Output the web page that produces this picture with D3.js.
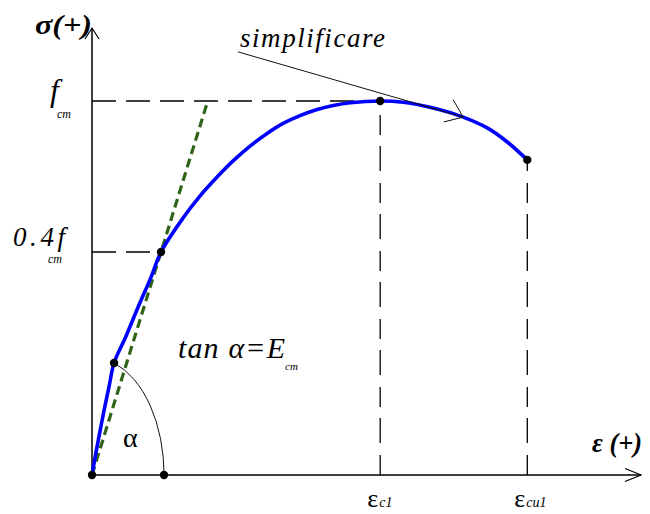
<!DOCTYPE html>
<html>
<head>
<meta charset="utf-8">
<script src="https://cdn.jsdelivr.net/npm/d3@7"></script>
<style>
  html, body { margin: 0; padding: 0; background: #fff; }
  svg { display: block; }
  text { font-family: "Liberation Serif", "Times New Roman", serif; fill: #000; }
</style>
</head>
<body>
<svg id="chart" width="650" height="514"></svg>
<script>
// Stress–strain diagram of concrete in compression (schematic).
// Strain in ‰, stress as a fraction of fcm.
const strain = [0, 0.028, 0.056, 0.083, 0.118, 0.153, 0.236, 0.326, 0.410, 0.479, 0.632, 0.750,
                0.868, 0.979, 1.097, 1.215, 1.326, 1.444, 1.563, 1.674, 1.792, 2.0,
                2.160, 2.396, 2.576, 2.743, 2.882, 3.021];
const stress = [0, 0.041, 0.079, 0.115, 0.158, 0.201, 0.249, 0.305, 0.355, 0.4, 0.535, 0.623,
                0.698, 0.762, 0.821, 0.871, 0.911, 0.942, 0.966, 0.982, 0.993, 1.0,
                0.995, 0.968, 0.936, 0.893, 0.837, 0.766];

// marked points on the diagram
const dotStrain = [0, 0.153, 0.479, 0.5, 2.0, 3.021];
const dotStress = [0, 0.201, 0.4, 0, 1.0, 0.766];

// stress levels on the vertical axis
const stressTicks = [1.0, 0.4];
const stressTickText = ["f", "0.4f"];
const stressTickSub = ["cm", "cm"];
const stressTickStrain = [2.0, 0.479];   // where each dashed level ends

// strain levels on the horizontal axis
const strainTicks = [2.0, 3.021];
const strainTickText = ["ε", "ε"];
const strainTickSub = ["c1", "cu1"];
const strainTickStress = [1.0, 0.766];   // where each dashed level ends

// secant modulus through 0.4 fcm
const secantStrain = 0.479;
const secantStress = 0.4;

// "simplificare" leader line
const leaderStrain = [1.014, 2.576];
const leaderStress = [1.195, 0.936];

// angle alpha: from the point on the curve down to the axis
const alphaFrom = [0.153, 0.201];
const alphaTo = [0.5, 0];

const svg = d3.select("#chart");

const x = d3.scaleLinear().domain([0, 3.81]).range([92, 641]);
// the diagram is schematic: the 0.4 fcm level is stretched upward
const y = d3.scaleLinear().domain([0, 0.4, 1.0, 1.29]).range([475, 252, 101, 28]);

const x0 = x(0), y0 = y(0);

// dashed reference lines
const dash = svg.append("g").attr("stroke", "#000").attr("stroke-width", 1.3).attr("fill", "none");
stressTicks.forEach((s, i) => {
  dash.append("line")
    .attr("x1", x0).attr("x2", x(stressTickStrain[i]))
    .attr("y1", y(s)).attr("y2", y(s))
    .attr("stroke-dasharray", "24,10");
});
strainTicks.forEach((e, i) => {
  dash.append("line")
    .attr("x1", x(e)).attr("x2", x(e))
    .attr("y1", y0).attr("y2", y(strainTickStress[i]))
    .attr("stroke-dasharray", "20,12,25,11");
});

// axes with open arrowheads
const axes = svg.append("g").attr("stroke", "#000").attr("stroke-width", 1.5).attr("fill", "none");
const xEnd = x(3.81), yEnd = y(1.29);
axes.append("line").attr("x1", x0).attr("y1", y0).attr("x2", xEnd).attr("y2", y0);
axes.append("line").attr("x1", x0).attr("y1", y0).attr("x2", x0).attr("y2", yEnd);
axes.append("path").attr("stroke-width", 1.2)
  .attr("d", `M${xEnd - 16},${y0 - 6.5} L${xEnd},${y0} L${xEnd - 16},${y0 + 6.5}`);
axes.append("path").attr("stroke-width", 1.2)
  .attr("d", `M${x0 - 7},${yEnd + 11} L${x0},${yEnd} L${x0 + 7},${yEnd + 11}`);

// secant line from the origin through the 0.4 fcm point, up to fcm
const sx = x(secantStrain), sy = y(secantStress);
const topY = y(1.0);
const topX = x0 + (sx - x0) * (y0 - topY) / (y0 - sy);
svg.append("line")
  .attr("x1", x0).attr("y1", y0).attr("x2", topX).attr("y2", topY)
  .attr("stroke", "#2f6418").attr("stroke-width", 3.2)
  .attr("stroke-dasharray", "9,5");

// stress-strain curve
const pts = strain.map((e, i) => [e, stress[i]]);
svg.append("path")
  .datum(pts)
  .attr("fill", "none")
  .attr("stroke", "#0000ff")
  .attr("stroke-width", 3.6)
  .attr("stroke-linejoin", "round")
  .attr("d", d3.line().x(d => x(d[0])).y(d => y(d[1])).curve(d3.curveCatmullRom.alpha(0.5)));

// leader line with open arrowhead
const lx1 = x(leaderStrain[0]), ly1 = y(leaderStress[0]);
const lx2 = x(leaderStrain[1]), ly2 = y(leaderStress[1]);
svg.append("line")
  .attr("x1", lx1).attr("y1", ly1).attr("x2", lx2).attr("y2", ly2)
  .attr("stroke", "#111").attr("stroke-width", 1);
const headDir = 23 * Math.PI / 180, headHalf = 37 * Math.PI / 180, headLen = 20;
const b1 = [lx2 - headLen * Math.cos(headDir - headHalf), ly2 - headLen * Math.sin(headDir - headHalf)];
const b2 = [lx2 - headLen * Math.cos(headDir + headHalf), ly2 - headLen * Math.sin(headDir + headHalf)];
svg.append("path")
  .attr("d", `M${b1[0]},${b1[1]} L${lx2},${ly2} L${b2[0]},${b2[1]}`)
  .attr("fill", "none").attr("stroke", "#111").attr("stroke-width", 1);

// arc marking the angle alpha
const ax1 = x(alphaFrom[0]), ay1 = y(alphaFrom[1]);
const ax2 = x(alphaTo[0]), ay2 = y(alphaTo[1]);
const rx = ax2 - x0;
const ry = (y0 - ay1) / Math.sqrt(1 - Math.pow((ax1 - x0) / rx, 2));
svg.append("path")
  .attr("d", `M${ax1},${ay1} A${rx},${ry} 0 0 1 ${ax2},${ay2}`)
  .attr("fill", "none").attr("stroke", "#111").attr("stroke-width", 1);

// points
svg.append("g").selectAll("circle")
  .data(dotStrain.map((e, i) => [e, dotStress[i]]))
  .join("circle")
  .attr("cx", d => x(d[0])).attr("cy", d => y(d[1]))
  .attr("r", 4.2).attr("fill", "#000");

// axis titles
svg.append("text").attr("x", 35).attr("y", 34)
  .attr("font-size", 28).attr("font-weight", "bold").attr("font-style", "italic")
  .attr("textLength", 57).attr("lengthAdjust", "spacingAndGlyphs")
  .text("σ(+)");
svg.append("text").attr("x", 592).attr("y", 452)
  .attr("font-size", 27).attr("font-weight", "bold").attr("font-style", "italic")
  .attr("textLength", 50).attr("lengthAdjust", "spacingAndGlyphs")
  .text("ε (+)");

// stress level labels
const stressLabelX = [50, 13], stressLabelLen = [null, 52], stressSubX = [57, 48];
const stressLabelSize = [32, 27];
const stressLabelDy = [0, -6], stressSubDy = [17, 11];
stressTicks.forEach((s, i) => {
  const t = svg.append("text").attr("x", stressLabelX[i]).attr("y", y(s) + stressLabelDy[i])
    .attr("font-size", stressLabelSize[i]).attr("font-style", "italic")
    .text(stressTickText[i]);
  if (stressLabelLen[i]) t.attr("textLength", stressLabelLen[i]).attr("lengthAdjust", "spacing");
  svg.append("text").attr("x", stressSubX[i]).attr("y", y(s) + stressSubDy[i])
    .attr("font-size", 12).attr("font-style", "italic")
    .text(stressTickSub[i]);
});

// strain level labels
strainTicks.forEach((e, i) => {
  svg.append("text").attr("x", x(e) - 13).attr("y", 507)
    .attr("font-size", 26)
    .text(strainTickText[i]);
  svg.append("text").attr("x", x(e) - 1).attr("y", 507)
    .attr("font-size", 14).attr("font-style", "italic")
    .text(strainTickSub[i]);
});

// annotations
svg.append("text").attr("x", 240).attr("y", 47)
  .attr("font-size", 27).attr("font-style", "italic")
  .attr("textLength", 145).attr("lengthAdjust", "spacing")
  .text("simplificare");
svg.append("text").attr("x", 178).attr("y", 358)
  .attr("font-size", 30).attr("font-style", "italic")
  .attr("textLength", 107).attr("lengthAdjust", "spacing")
  .text("tan α=E");
svg.append("text").attr("x", 285).attr("y", 370)
  .attr("font-size", 11).attr("font-style", "italic")
  .text("cm");
svg.append("text").attr("x", 123).attr("y", 447)
  .attr("font-size", 28)
  .text("α");
</script>
</body>
</html>
